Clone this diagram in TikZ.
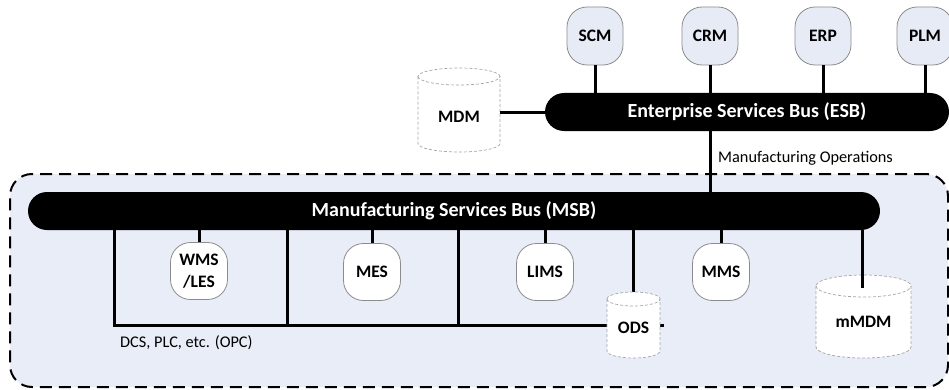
\documentclass[tikz,border=0pt]{standalone}
\usepackage{fontspec}
\setmainfont{Carlito}
\usetikzlibrary{calc}

\definecolor{panel}{HTML}{E8EDF7}
\definecolor{appfill}{HTML}{E6EBF5}
\definecolor{rim}{HTML}{8C8C8C}
\definecolor{drumrim}{HTML}{A6A6A6}

\tikzset{
  app/.style={draw=rim, line width=0.8pt, fill=appfill, rounded corners=20pt,
    minimum width=56pt, minimum height=58pt, inner sep=0pt, align=center,
    font=\fontsize{17.5}{21.5}\selectfont\bfseries},
  mod/.style={app, fill=white, minimum width=57pt, minimum height=57pt},
  bus/.style={fill=black, rounded corners=19pt, minimum height=38pt, inner sep=0pt,
    text=white, font=\fontsize{20}{24}\selectfont\bfseries},
  frame/.style={draw=black, fill=panel, line width=2pt, dash pattern=on 12pt off 7pt,
    rounded corners=22pt, inner sep=0pt},
  link/.style={line width=3pt},
  drumline/.style={draw=drumrim, fill=white, line width=0.7pt, dash pattern=on 3pt off 2pt},
  drumtext/.style={inner sep=0pt, font=\fontsize{17.5}{21}\selectfont\bfseries},
  note/.style={inner sep=0pt, anchor=west, font=\fontsize{16.3}{19}\selectfont},
}

% database drum: left x, right x, bottom y, top y, ellipse y-radius
\newcommand\drumshape[5]{%
  \pgfmathsetmacro\drumrx{(#2-#1)/2}%
  \filldraw[drumline] (#1,#4-#5) -- (#1,#3+#5)
    arc[start angle=180, end angle=360, x radius=\drumrx, y radius=#5]
    -- (#2,#4-#5)
    arc[start angle=0, end angle=180, x radius=\drumrx, y radius=#5] -- cycle;
  \draw[drumline, fill=none] (#1,#4-#5)
    arc[start angle=180, end angle=360, x radius=\drumrx, y radius=#5];
}

\begin{document}
\begin{tikzpicture}[x=1pt, y=1pt]
  \useasboundingbox (0,0) rectangle (949,389);

  % plant-floor panel
  \node[frame, minimum width=938pt, minimum height=213pt] (plant) at (479,108.5) {};

  % enterprise applications and bus
  \node[app] (scm) at (595,353) {SCM};
  \node[app] (crm) at (710,353) {CRM};
  \node[app] (erp) at (823,353) {ERP};
  \node[app] (plm) at (925,353) {PLM};
  \node[bus, minimum width=404pt] (esb) at (747,277) {Enterprise Services Bus (ESB)};

  \foreach \a in {scm,crm,erp,plm}
    \draw[link] (\a.south) -- (\a.south |- esb.north);

  % master data store
  \drumshape{418}{500}{237}{321}{8.5}
  \node[drumtext, minimum width=82pt] (mdm) at (459,272) {MDM};
  \draw[link] (esb.west) -- (esb.west -| mdm.east);

  % manufacturing bus
  \node[bus, minimum width=852pt] (msb) at (454,178) {Manufacturing Services Bus (MSB)};
  \draw[link] (crm.south |- esb.south) -- (crm.south |- msb.north);
  \node[note] (mfgops) at (718,231) {Manufacturing Operations};

  % control-level network
  \coordinate (opcw) at (114,64);
  \coordinate (opce) at (664,64);
  \coordinate (opc2) at (287,64);
  \coordinate (opc3) at (458,64);
  \draw[link] (opcw |- msb.south) -- (opcw) -- (opce);
  \draw[link] (opc2 |- msb.south) -- (opc2);
  \draw[link] (opc3 |- msb.south) -- (opc3);
  \node[note] (opc) at (120,46) {DCS, PLC, etc. (OPC)};

  % manufacturing modules
  \node[mod] (wms)  at (199,118) {WMS\\/LES};
  \node[mod] (mes)  at (372,117) {MES};
  \node[mod] (lims) at (545,117) {LIMS};
  \node[mod] (mms)  at (721,117) {MMS};
  \foreach \m in {wms,mes,lims,mms}
    \draw[link] (\m.north |- msb.south) -- (\m.north);

  % operational data store
  \coordinate (odstop) at (633.5,90);
  \draw[link] (odstop |- msb.south) -- (odstop);
  \drumshape{607}{660}{31}{97}{7}
  \node[drumtext, minimum width=53pt] (ods) at (633.5,61) {ODS};

  % manufacturing master data
  \drumshape{816}{911}{31}{114}{11}
  \node[drumtext, minimum width=95pt] (mmdm) at (863.5,67) {mMDM};
  \coordinate (mmdmtop) at (862,101);
  \draw[link] (mmdmtop |- msb.south) -- (mmdmtop);
\end{tikzpicture}
\end{document}
